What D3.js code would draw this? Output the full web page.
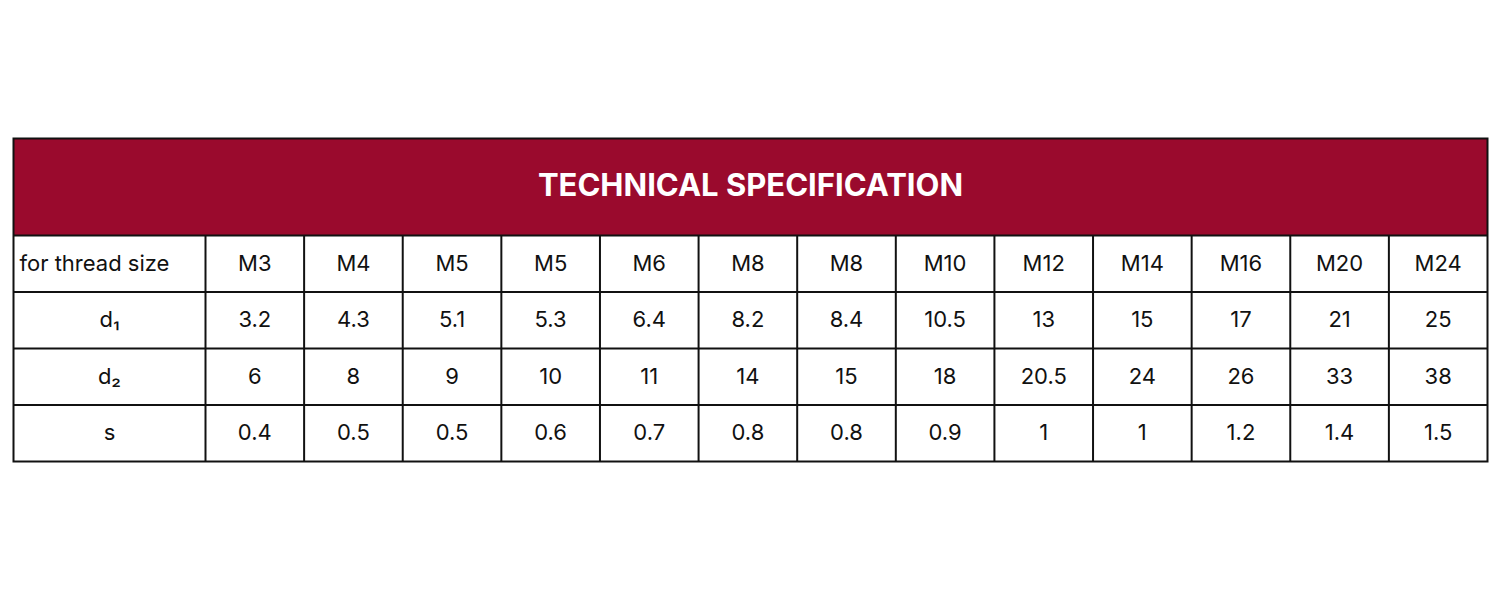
<!DOCTYPE html>
<html><head><meta charset="utf-8">
<script src="https://cdn.jsdelivr.net/npm/d3@7"></script>
<style>body{margin:0;background:#fff}</style></head>
<body><svg id="c" width="1500" height="600"></svg>
<script>
const title = "TECHNICAL SPECIFICATION";
const rowLabels = ["for thread size", "d₁", "d₂", "s"];
const threadSizes = ["M3","M4","M5","M5","M6","M8","M8","M10","M12","M14","M16","M20","M24"];
const d1 = ["3.2","4.3","5.1","5.3","6.4","8.2","8.4","10.5","13","15","17","21","25"];
const d2 = ["6","8","9","10","11","14","15","18","20.5","24","26","33","38"];
const s = ["0.4","0.5","0.5","0.6","0.7","0.8","0.8","0.9","1","1","1.2","1.4","1.5"];
const rows = [threadSizes, d1, d2, s];

const svg = d3.select("#c");
const L = 13.5, R = 1487.5, T = 138.5, H0 = 235.5, B = 461.5, firstW = 192;
const x = d3.scaleLinear().domain([0, threadSizes.length]).range([L + firstW, R]);
const y = d3.scaleLinear().domain([0, rows.length]).range([H0, B]);
const font = "Inter, 'Open Sans', sans-serif";

svg.append("rect").attr("x", L).attr("y", T).attr("width", R - L).attr("height", H0 - T)
  .attr("fill", "#9a0a2d");
svg.append("text").attr("x", (L + R) / 2).attr("y", (T + H0) / 2 + 1)
  .attr("text-anchor", "middle").attr("dominant-baseline", "middle")
  .attr("fill", "#fff").attr("font-family", font).attr("font-weight", 700)
  .attr("font-size", 31).text(title);

rows.forEach((vals, r) => {
  const cy = (y(r) + y(r + 1)) / 2;
  svg.append("text").attr("x", r === 0 ? L + 6 : L + firstW / 2).attr("y", cy + 1)
    .attr("text-anchor", r === 0 ? "start" : "middle").attr("dominant-baseline", "middle")
    .attr("font-family", font).attr("font-size", 22).attr("fill", "#111").text(rowLabels[r]);
  svg.selectAll(null).data(vals).join("text")
    .attr("x", (d, i) => (x(i) + x(i + 1)) / 2).attr("y", cy + 1)
    .attr("text-anchor", "middle").attr("dominant-baseline", "middle")
    .attr("font-family", font).attr("font-size", 22).attr("fill", "#111").text(d => d);
});

const g = svg.append("g").attr("stroke", "#111").attr("stroke-width", 2).attr("fill", "none");
g.append("rect").attr("x", L).attr("y", T).attr("width", R - L).attr("height", B - T);
d3.range(0, rows.length).forEach(r => g.append("line").attr("x1", L).attr("x2", R).attr("y1", y(r)).attr("y2", y(r)));
d3.range(0, threadSizes.length).forEach(i => g.append("line").attr("x1", x(i)).attr("x2", x(i)).attr("y1", H0).attr("y2", B));
</script></body></html>
